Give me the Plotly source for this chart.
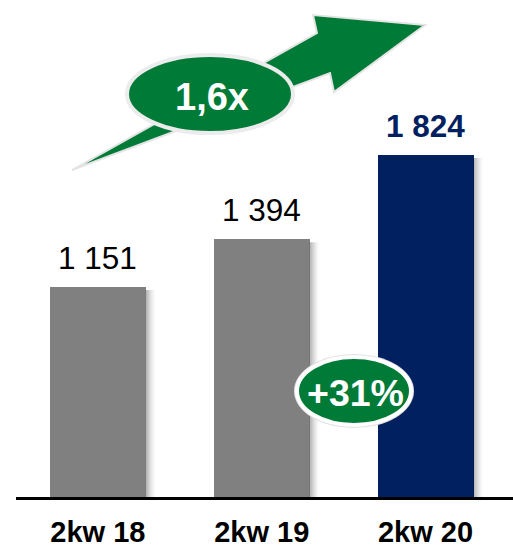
import plotly.graph_objects as go

# Half-year volumes
periods = ["2kw 18", "2kw 19", "2kw 20"]
values = [1151, 1394, 1824]
value_labels = ["1 151", "1 394", "1 824"]
bar_colors = ["#808080", "#808080", "#002060"]
label_colors = ["#000000", "#000000", "#002060"]
label_weights = ["normal", "normal", "bold"]
growth_total = "1,6x"
growth_yoy = "+31%"

GREEN = "#007A37"
FONT = "Liberation Sans, Arial, sans-serif"

W, H = 513, 548
ML, MR, MT, MB = 16, 0, 0, 51
PW, PH = W - ML - MR, H - MT - MB
Y_RANGE = [80, 2614]
X_RANGE = [-0.5, 2.534]
BAR_W = 0.586


def px(x):
    return (x - ML) / PW


def py(y):
    return (H - MB - y) / PH


xs = list(range(len(periods)))

fig = go.Figure(
    go.Bar(
        x=xs,
        y=values,
        width=BAR_W,
        marker=dict(color=bar_colors, line=dict(width=0)),
        hoverinfo="skip",
    )
)

shapes = []
# soft drop shadow along the right edge of every bar
for i, v in zip(xs, values):
    for j in range(10):
        shapes.append(dict(
            type="rect", xref="x", yref="y",
            xsizemode="pixel", xanchor=i + BAR_W / 2, x0=j, x1=j + 1,
            y0=Y_RANGE[0], y1=v - 15,
            fillcolor="rgba(0,0,0,%.3f)" % (0.30 * (1 - j / 10) ** 1.6),
            line=dict(width=0), layer="above",
        ))

# growth arrow
arrow_pts = [(72, 170), (317, 33), (313, 15), (425, 25), (334, 92), (330, 73)]
path = "M " + " L ".join("%.4f,%.4f" % (px(a), py(b)) for a, b in arrow_pts) + " Z"
shapes.append(dict(type="path", xref="paper", yref="paper", path=path,
                   fillcolor=GREEN, line=dict(color="#e4e4e4", width=2)))

# oval behind "1,6x"
shapes.append(dict(type="circle", xref="paper", yref="paper",
                   x0=px(127), x1=px(293), y0=py(133), y1=py(55),
                   fillcolor=GREEN, line=dict(color="#ececec", width=4)))

# oval behind "+31%"
shapes.append(dict(type="circle", xref="paper", yref="paper",
                   x0=px(294), x1=px(414), y0=py(428), y1=py(354),
                   fillcolor="#e2e2e2", line=dict(width=0)))
shapes.append(dict(type="circle", xref="paper", yref="paper",
                   x0=px(297), x1=px(411), y0=py(425), y1=py(357),
                   fillcolor=GREEN, line=dict(color="#ffffff", width=4)))

annotations = []
for i, v, t, c, w in zip(xs, values, value_labels, label_colors, label_weights):
    annotations.append(dict(
        x=i, y=v, xref="x", yref="y", text=t, showarrow=False,
        yanchor="middle", yshift=29,
        font=dict(family=FONT, size=31.5, color=c, weight=w),
    ))

annotations.append(dict(
    x=px(211.5), y=py(96.5), xref="paper", yref="paper", text=growth_total,
    showarrow=False, xanchor="center", yanchor="middle",
    font=dict(family=FONT, size=38, color="#ffffff", weight="bold"),
))
annotations.append(dict(
    x=px(355), y=py(393), xref="paper", yref="paper", text=growth_yoy,
    showarrow=False, xanchor="center", yanchor="middle",
    font=dict(family=FONT, size=37.5, color="#ffffff", weight="bold"),
))

fig.update_layout(
    width=W, height=H,
    margin=dict(l=ML, r=MR, t=MT, b=MB, pad=0, autoexpand=False),
    paper_bgcolor="#ffffff", plot_bgcolor="#ffffff",
    showlegend=False,
    bargap=0,
    shapes=shapes,
    annotations=annotations,
    xaxis=dict(
        range=X_RANGE, tickmode="array", tickvals=xs, ticktext=periods,
        showline=True, linecolor="#000000", linewidth=3,
        showgrid=False, zeroline=False, ticks="",
        ticklabelstandoff=7, automargin=False,
        tickfont=dict(family=FONT, size=29, color="#000000", weight="bold"),
        fixedrange=True,
    ),
    yaxis=dict(range=Y_RANGE, visible=False, fixedrange=True, automargin=False),
)

fig.write_html("out.html")
